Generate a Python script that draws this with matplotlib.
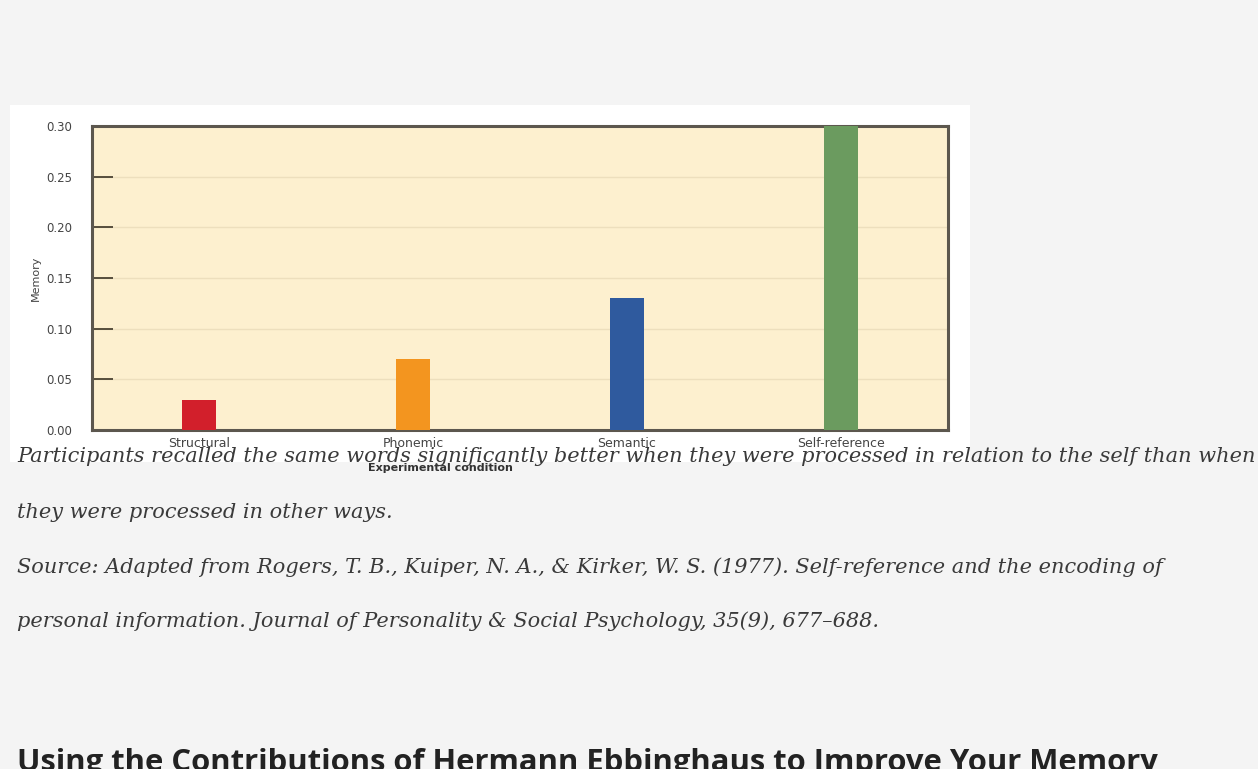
import matplotlib.pyplot as plt
from matplotlib.patches import Rectangle

conditions = ['Structural', 'Phonemic', 'Semantic', 'Self-reference']
memory = [0.03, 0.07, 0.13, 0.30]
bar_colors = ['#d21f2b', '#f3951f', '#2f5a9e', '#6b9b5f']
yticks = [0.00, 0.05, 0.10, 0.15, 0.20, 0.25, 0.30]

caption_lines = [
    'Participants recalled the same words significantly better when they were processed in relation to the self than when',
    'they were processed in other ways.',
    'Source: Adapted from Rogers, T. B., Kuiper, N. A., & Kirker, W. S. (1977). Self-reference and the encoding of',
    'personal information. Journal of Personality & Social Psychology, 35(9), 677\u2013688.',
]
heading = 'Using the Contributions of Hermann Ebbinghaus to Improve Your Memory'

W, H = 1258, 769
fig = plt.figure(figsize=(W / 100, H / 100), dpi=100)
fig.patch.set_facecolor('#f4f4f4')

# white panel behind the chart image
panel = Rectangle((10 / W, 1 - 462 / H), 960 / W, 357 / H,
                  transform=fig.transFigure, facecolor='white',
                  edgecolor='none', zorder=-5)
fig.add_artist(panel)

ax = fig.add_axes([92 / W, 1 - 430 / H, 856 / W, 304 / H])
ax.set_zorder(2)
ax.set_facecolor('#fdf0cf')
x = range(len(conditions))
ax.bar(x, memory, width=0.16, color=bar_colors, zorder=3)
ax.set_xlim(-0.5, 3.5)
ax.set_ylim(0, 0.30)
ax.set_yticks(yticks)
ax.set_yticklabels(['%.2f' % v for v in yticks], fontsize=8.5, color='#444444')
ax.set_xticks(list(x))
ax.set_xticklabels(conditions, fontsize=9, color='#444444')
ax.tick_params(axis='y', direction='in', length=15, width=1.3, color='#4a4232', pad=14)
ax.tick_params(axis='x', length=0, pad=5)
ax.grid(axis='y', color='#eddfbd', linewidth=1, zorder=1)
for s in ax.spines.values():
    s.set_color('#5c574e')
    s.set_linewidth(2.2)
ax.set_ylabel('Memory', fontsize=8, color='#444444', labelpad=4)
ax.set_xlabel('Experimental condition', fontsize=8, color='#333333',
              fontweight='bold')
ax.xaxis.set_label_coords(0.407, -0.11)

# caption below the figure
cap_y = [457, 512, 567, 621]
txts = []
for line, yy in zip(caption_lines, cap_y):
    t = fig.text(17 / W, 1 - yy / H, line, fontsize=13, family='DejaVu Serif',
                 style='italic', color='#3a3a3a', va='center', ha='left')
    txts.append(t)

fig.canvas.draw()
r = fig.canvas.get_renderer()
w0 = txts[0].get_window_extent(r).width
size = 13 * (1236 / w0)
for t in txts:
    t.set_fontsize(size)

fig.text(17 / W, 1 - 748 / H, heading, fontsize=22.3, family='Open Sans',
         fontweight='bold', color='#222222', va='top', ha='left')

fig.savefig('out.png', dpi=100, facecolor=fig.get_facecolor())
